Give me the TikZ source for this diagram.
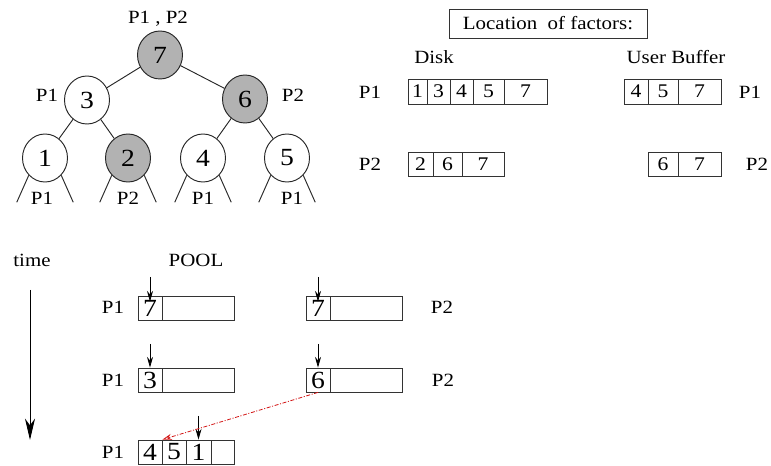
\documentclass[tikz,border=0pt]{standalone}
\usepackage{fontspec}
\setmainfont{Liberation Serif}[FakeStretch=1.12]
\usetikzlibrary{arrows.meta,calc,shapes.geometric}
\tikzset{
  lab/.style={inner sep=0pt,font=\fontsize{14}{16}\selectfont},
  tnode/.style={ellipse,draw=black!85,line width=0.7pt,minimum width=33.75pt,minimum height=36pt,inner sep=0pt,font=\fontsize{18.5}{20}\selectfont},
  shaded/.style={fill=black!30},
  edge/.style={draw=black!85,line width=0.7pt},
  cellst/.style={rectangle,draw=black!80,line width=0.6pt,inner sep=0pt},
  dcell/.style={cellst,font=\fontsize{14.5}{16}\selectfont},
  pcell/.style={cellst,font=\fontsize{18.5}{20}\selectfont},
  parr/.style={draw=black,line width=0.6pt,-{Stealth[length=8pt,width=4.5pt]}},
  tarr/.style={draw=black,line width=0.7pt,-{Stealth[length=16pt,width=7.5pt,inset=5pt]}},
  redarr/.style={draw={rgb,255:red,210;green,20;blue,20},line width=0.6pt,dash pattern=on 3pt off 1.2pt on 0.8pt off 1.2pt,-{Stealth[length=7pt,width=4.5pt,open]}}
}
\newcommand\cellbox[7]{\node[#7,minimum width={(#3-#2)*0.75pt},minimum height={(#5-#4)*0.75pt}] (#1) at ({(#2+#3)/2},{(#4+#5)/2}) {#6};}
\begin{document}
\begin{tikzpicture}[x=0.75pt,y=-0.75pt]
\useasboundingbox (0,0) rectangle (771,466);
% ---------- tree ----------
\node[tnode,shaded] (r) at (160,55) {7};
\node[tnode] (n3) at (87,100) {3};
\node[tnode,shaded] (n6) at (245,99) {6};
\node[tnode] (n1) at (45,158) {1};
\node[tnode,shaded] (n2) at (128,158) {2};
\node[tnode] (n4) at (203,158) {4};
\node[tnode] (n5) at (287,158) {5};
\draw[edge] (r) -- (n3);
\draw[edge] (r) -- (n6);
\draw[edge] (n3) -- (n1);
\draw[edge] (n3) -- (n2);
\draw[edge] (n6) -- (n4);
\draw[edge] (n6) -- (n5);
\foreach \n in {n1,n2,n4,n5}{
  \draw[edge] (\n.south west) -- ++(-12,27);
  \draw[edge] (\n.south east) -- ++(12,27);
}
\node[lab] (lr) at (158,19) {P1 , P2};
\node[lab] (l3) at (47,95) {P1};
\node[lab] (l6) at (293,95) {P2};
\node[lab] (l1) at (42,198) {P1};
\node[lab] (l2) at (128,198) {P2};
\node[lab] (l4) at (203,198) {P1};
\node[lab] (l5) at (292,198) {P1};
% ---------- location of factors ----------
\node[cellst,minimum width=148.5pt,minimum height=21.75pt,font=\fontsize{14}{16}\selectfont] (loc) at (548,23.5) {Location\ \ of factors:};
\node[lab] (disk) at (434,57) {Disk};
\node[lab] (ub) at (676,57) {User Buffer};
\node[lab] (dp1) at (370,92) {P1};
\node[lab] (up1) at (750,92) {P1};
\node[lab] (dp2) at (370,164) {P2};
\node[lab] (up2) at (757,164) {P2};
\cellbox{d1a}{408}{427}{79}{104}{1}{dcell}
\cellbox{d1b}{427}{450}{79}{104}{3}{dcell}
\cellbox{d1c}{450}{473}{79}{104}{4}{dcell}
\cellbox{d1d}{473}{504}{79}{104}{5}{dcell}
\cellbox{d1e}{504}{547}{79}{104}{7}{dcell}
\cellbox{u1a}{624}{648}{79}{104}{4}{dcell}
\cellbox{u1b}{648}{678}{79}{104}{5}{dcell}
\cellbox{u1c}{678}{721}{79}{104}{7}{dcell}
\cellbox{d2a}{408}{433}{152}{176}{2}{dcell}
\cellbox{d2b}{433}{462}{152}{176}{6}{dcell}
\cellbox{d2c}{462}{504}{152}{176}{7}{dcell}
\cellbox{u2a}{648}{678}{152}{176}{6}{dcell}
\cellbox{u2b}{678}{721}{152}{176}{7}{dcell}
% ---------- pool ----------
\node[lab] (time) at (32,260) {time};
\node[lab] (pool) at (196,260) {POOL};
\coordinate (t0) at (30,290);
\coordinate (t1) at (30,440);
\draw[tarr] (t0) -- (t1);
\node[lab] (q1l) at (113,307) {P1};
\node[lab] (q1r) at (442,307) {P2};
\node[lab] (q2l) at (113,380) {P1};
\node[lab] (q2r) at (443,380) {P2};
\node[lab] (q3l) at (113,452) {P1};
\cellbox{a1}{138}{162}{296}{320}{7}{pcell}
\cellbox{a2}{162}{234}{296}{320}{}{pcell}
\cellbox{b1}{306}{330}{296}{320}{7}{pcell}
\cellbox{b2}{330}{402}{296}{320}{}{pcell}
\cellbox{c1}{138}{162}{368}{392}{3}{pcell}
\cellbox{c2}{162}{234}{368}{392}{}{pcell}
\cellbox{e1}{306}{330}{368}{392}{6}{pcell}
\cellbox{e2}{330}{402}{368}{392}{}{pcell}
\cellbox{f1}{138}{162}{440}{464}{4}{pcell}
\cellbox{f2}{162}{186}{440}{464}{5}{pcell}
\cellbox{f3}{186}{211}{440}{464}{1}{pcell}
\cellbox{f4}{211}{234}{440}{464}{}{pcell}
\coordinate (pa) at (150,277);
\coordinate (pb) at (318,277);
\coordinate (pc) at (150,344);
\coordinate (pe) at (318,344);
\coordinate (pf) at (198.5,416);
\draw[parr] (pa) -- ($(a1.north)+(0,6)$);
\draw[parr] (pb) -- ($(b1.north)+(0,6)$);
\draw[parr] (pc) -- (c1.north);
\draw[parr] (pe) -- (e1.north);
\draw[parr] (pf) -- (f3.north);
\draw[redarr] (e1.south) -- (f1.north east);
\end{tikzpicture}
\end{document}
